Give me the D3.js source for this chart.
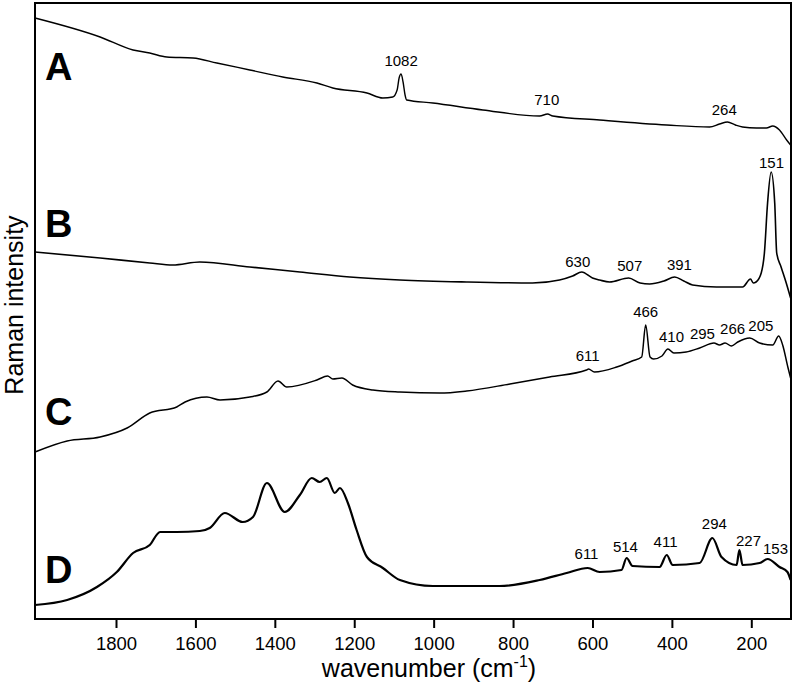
<!DOCTYPE html>
<html>
<head>
<meta charset="utf-8">
<script src="https://cdn.jsdelivr.net/npm/d3@7"></script>
<style>
  body { margin: 0; background: #fff; }
  text { font-family: "Liberation Sans", Arial, sans-serif; fill: #000; }
</style>
</head>
<body>
<div id="chart"></div>
<script>
// spectra: [wavenumber, intensity (arb. units, offset stacked)]
const spectrumA = [[2004,601],[1840,582],[1757,569],[1715,566],[1672,562],[1606,561],[1546,556],[1463,549],[1380,542],[1294,536],[1254,531],[1168,526],[1128,521],[1103,522],[1092,529],[1087,541],[1082,545],[1077,537],[1072,524],[1068,519],[1002,516],[876,509],[733,503],[713,505],[700,503],[582,499],[413,494],[305,492],[280,495],[260,497],[240,494],[222,492],[187,491],[162,491],[146,493],[129,489],[111,479],[101,474]];
const spectrumB = [[2004,367],[1840,361],[1715,356],[1657,354],[1589,357],[1463,352],[1337,347],[1211,342],[1085,339],[917,337],[751,336],[683,339],[650,343],[627,347],[600,341],[582,339],[557,337],[509,341],[480,336],[456,335],[420,338],[393,342],[370,338],[348,334],[288,332],[222,332],[202,340],[195,336],[188,337],[175,346],[167,366],[159,416],[150,447],[141,416],[136,366],[125,352],[112,336],[101,321]];
const spectrumC = [[2004,167],[1923,178],[1840,182],[1772,191],[1715,206],[1647,212],[1626,217],[1571,222],[1538,219],[1463,222],[1420,227],[1392,238],[1370,232],[1294,239],[1267,243],[1254,240],[1231,241],[1204,234],[1153,229],[1085,227],[985,226],[917,228],[808,235],[708,242],[615,249],[610,250],[595,247],[539,252],[500,258],[476,262],[466,294],[455,262],[446,260],[425,263],[410,270],[395,266],[364,267],[330,271],[294,276],[280,274],[266,276],[250,273],[234,277],[204,281],[179,276],[146,274],[131,283],[121,274],[108,252],[101,241]];
const spectrumD = [[2004,14],[1923,19],[1848,32],[1798,47],[1757,66],[1715,74],[1689,87],[1647,87],[1589,88],[1564,91],[1526,106],[1481,97],[1455,102],[1420,136],[1375,107],[1337,124],[1307,141],[1287,137],[1269,141],[1249,126],[1236,131],[1216,116],[1194,89],[1168,62],[1128,51],[1085,39],[1002,33],[834,33],[733,39],[665,46],[612,51],[582,47],[527,49],[514,61],[499,53],[431,52],[413,64],[398,54],[330,56],[298,81],[275,62],[237,54],[230,69],[222,54],[179,56],[159,60],[129,52],[109,47],[101,39]];

const traceNames = ["A", "B", "C", "D"];
const traceLetterLevel = [539, 382, 194, 36];
const traceWidths = [1.4, 1.6, 1.5, 2.2];

// peak labels: [text, anchor wavenumber, label baseline level]
const peaksA = [["1082",1082,553],["710",715,514],["264",268,504]];
const peaksB = [["151",149,451],["630",637,352],["507",506,348],["391",381,349]];
const peaksC = [["466",466,302],["611",612,258],["410",401,277],["295",323,280],["266",247,285],["205",176,288]];
const peaksD = [["611",615,60],["514",517,67],["411",416,72],["294",293,90],["227",207,73],["153",139,65]];

const xTicks = [1800,1600,1400,1200,1000,800,600,400,200];

const width = 796, height = 688;
const margin = {top: 3, right: 5, bottom: 69, left: 35};

const svg = d3.select("#chart").append("svg")
    .attr("width", width)
    .attr("height", height);

const x = d3.scaleLinear()
    .domain([2004, 100])
    .range([margin.left, width - margin.right]);

const y = d3.scaleLinear()
    .domain([0, 616])
    .range([height - margin.bottom, margin.top]);

const line = d3.line()
    .x(d => x(d[0]))
    .y(d => y(d[1]))
    .curve(d3.curveMonotoneX);

const spectra = [spectrumA, spectrumB, spectrumC, spectrumD];
const peaks = [peaksA, peaksB, peaksC, peaksD];

spectra.forEach((s, i) => {
    svg.append("path")
        .datum(s)
        .attr("fill", "none")
        .attr("stroke", "#000")
        .attr("stroke-width", traceWidths[i])
        .attr("stroke-linejoin", "round")
        .attr("d", line);

    svg.append("text")
        .attr("x", margin.left + 10)
        .attr("y", y(traceLetterLevel[i]))
        .attr("font-size", 38)
        .attr("font-weight", "bold")
        .text(traceNames[i]);

    svg.selectAll(null)
        .data(peaks[i])
        .join("text")
        .attr("x", d => x(d[1]))
        .attr("y", d => y(d[2]))
        .attr("text-anchor", "middle")
        .attr("font-size", 15)
        .text(d => d[0]);
});

// frame
svg.append("rect")
    .attr("x", margin.left)
    .attr("y", margin.top)
    .attr("width", width - margin.left - margin.right)
    .attr("height", height - margin.top - margin.bottom)
    .attr("fill", "none")
    .attr("stroke", "#000")
    .attr("stroke-width", 2);

// x axis
const xAxis = svg.append("g")
    .attr("transform", `translate(0,${height - margin.bottom})`)
    .call(d3.axisBottom(x).tickValues(xTicks).tickSize(9).tickPadding(9).tickFormat(d3.format("d")));
xAxis.select(".domain").remove();
xAxis.selectAll("line").attr("stroke-width", 2);
xAxis.selectAll("text")
    .attr("font-size", 18.5)
    .attr("font-family", "'Liberation Sans', Arial, sans-serif")
    .attr("fill", "#000");

const xTitle = svg.append("text")
    .attr("x", 429)
    .attr("y", 677)
    .attr("text-anchor", "middle")
    .attr("font-size", 25);
xTitle.append("tspan").text("wavenumber (cm");
xTitle.append("tspan").attr("font-size", 16).attr("dy", -10).text("-1");
xTitle.append("tspan").attr("dy", 10).text(")");

svg.append("text")
    .attr("transform", "translate(23,305) rotate(-90)")
    .attr("text-anchor", "middle")
    .attr("font-size", 25)
    .text("Raman intensity");
</script>
</body>
</html>
